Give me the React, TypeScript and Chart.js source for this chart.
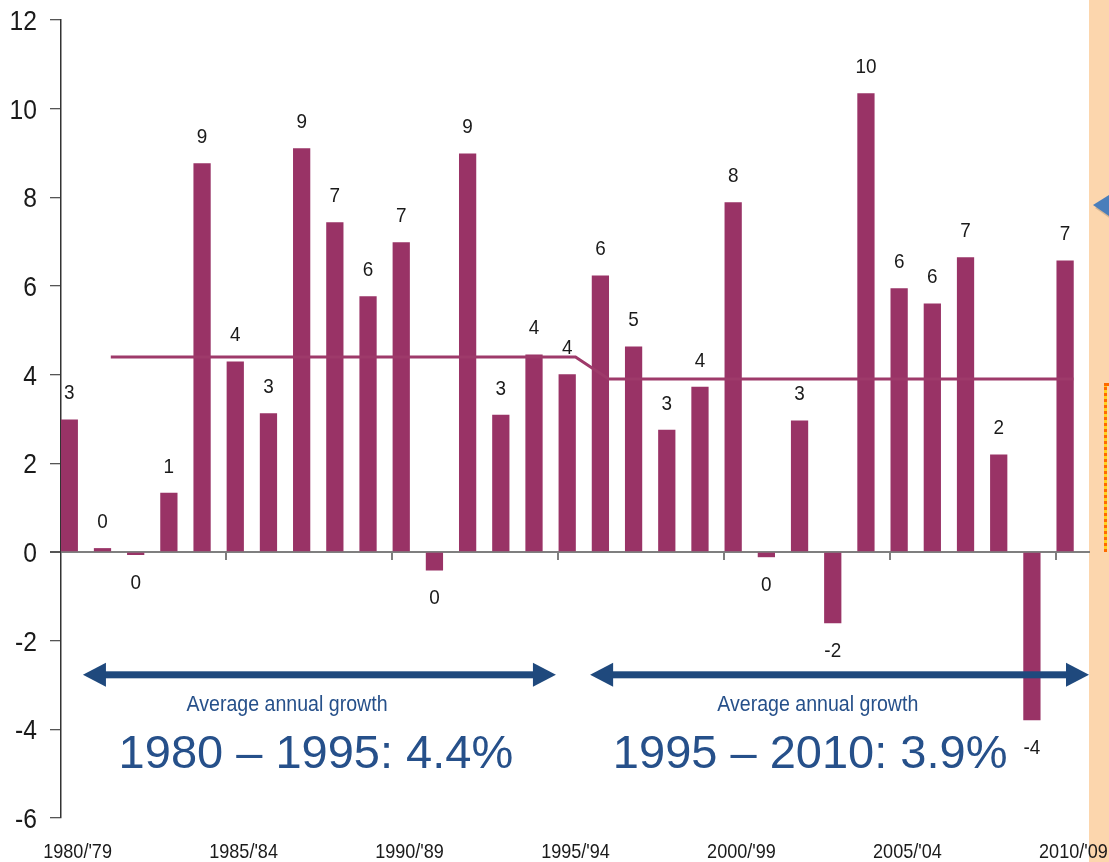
import React, { useEffect, useRef } from "react";
import { Chart, registerables } from "chart.js";

Chart.register(...registerables);

// ---- data ----
const categories = [
  "1980/'79", "1981/'80", "1982/'81", "1983/'82", "1984/'83",
  "1985/'84", "1986/'85", "1987/'86", "1988/'87", "1989/'88",
  "1990/'89", "1991/'90", "1992/'91", "1993/'92", "1994/'93",
  "1995/'94", "1996/'95", "1997/'96", "1998/'97", "1999/'98",
  "2000/'99", "2001/'00", "2002/'01", "2003/'02", "2004/'03",
  "2005/'04", "2006/'05", "2007/'06", "2008/'07", "2009/'08",
  "2010/'09",
];

const growth = [
  2.98, 0.08, -0.06, 1.33, 8.76,
  4.29, 3.12, 9.1, 7.43, 5.76,
  6.98, -0.41, 8.98, 3.09, 4.45,
  4.0, 6.23, 4.63, 2.75, 3.72,
  7.88, -0.11, 2.96, -1.6, 10.34,
  5.94, 5.6, 6.64, 2.19, -3.79,
  6.57,
];

const averageGrowth = [
  null, 4.4, 4.4, 4.4, 4.4,
  4.4, 4.4, 4.4, 4.4, 4.4,
  4.4, 4.4, 4.4, 4.4, 4.4,
  4.4, 3.9, 3.9, 3.9, 3.9,
  3.9, 3.9, 3.9, 3.9, 3.9,
  3.9, 3.9, 3.9, 3.9, 3.9,
  3.9,
];

const yMin = -6;
const yMax = 12;
const yStep = 2;
const labelEvery = 5;

const periodCaption = "Average annual growth";
const periodTexts = ["1980 – 1995: 4.4%", "1995 – 2010: 3.9%"];

// ---- annotation placement (in data units) ----
const periodLayout = [
  { from: 0.16, to: 14.41, captionX: 6.31, textX: 7.18 },
  { from: 15.44, to: 30.47, captionX: 22.3, textX: 22.07 },
];
const arrowY = -2.77;
const captionY = -3.41;
const bigTextBaselineY = -4.87;

const SANS = '"Liberation Sans", Arial, "DejaVu Sans", sans-serif';
const BAR = "#993366";
const LINE = "#9E3A6A";
const NAVY = "#1F497D";
const TEXTBLUE = "#26508A";
const INK = "#1a1a1a";

// draws real text, horizontally condensed (Arial-Narrow-like look)
function condensedText(
  ctx: CanvasRenderingContext2D,
  text: string,
  x: number,
  y: number,
  size: number,
  sx: number,
  align: CanvasTextAlign,
  baseline: CanvasTextBaseline,
  color: string
) {
  ctx.save();
  ctx.font = `${size}px ${SANS}`;
  ctx.fillStyle = color;
  ctx.textAlign = align;
  ctx.textBaseline = baseline;
  ctx.scale(sx, 1);
  ctx.fillText(text, x / sx, y);
  ctx.restore();
}

function drawArrow(ctx: CanvasRenderingContext2D, x1: number, x2: number, y: number) {
  const head = 23;
  const half = 12;
  ctx.save();
  ctx.fillStyle = NAVY;
  ctx.fillRect(x1 + head - 1, y - 3.5, x2 - x1 - 2 * head + 2, 7);
  ctx.beginPath();
  ctx.moveTo(x1, y);
  ctx.lineTo(x1 + head, y - half);
  ctx.lineTo(x1 + head, y + half);
  ctx.closePath();
  ctx.fill();
  ctx.beginPath();
  ctx.moveTo(x2, y);
  ctx.lineTo(x2 - head, y - half);
  ctx.lineTo(x2 - head, y + half);
  ctx.closePath();
  ctx.fill();
  ctx.restore();
}

const overlayPlugin = {
  id: "overlay",
  beforeDraw(chart: any) {
    const { ctx, chartArea, height, width } = chart;
    ctx.save();
    ctx.fillStyle = "#FCD6AD";
    ctx.fillRect(chartArea.right - 1, 0, width - chartArea.right + 1, height);
    ctx.restore();
  },
  afterDatasetsDraw(chart: any) {
    const { ctx, scales, chartArea } = chart;
    const x = scales.x;
    const y = scales.y;
    const zero = y.getPixelForValue(0);

    // x tick marks on the zero line
    ctx.save();
    ctx.strokeStyle = "#7f7f7f";
    ctx.lineWidth = 2;
    for (let i = labelEvery; i < categories.length; i += labelEvery) {
      const px = Math.round(x.getPixelForValue(i - 0.5)) - 1;
      ctx.beginPath();
      ctx.moveTo(px, zero);
      ctx.lineTo(px, zero + 8);
      ctx.stroke();
    }
    ctx.restore();

    // y tick labels
    for (let v = yMin; v <= yMax; v += yStep) {
      condensedText(ctx, String(v), chartArea.left - 24, y.getPixelForValue(v) + 10, 28, 0.88, "right", "alphabetic", INK);
    }

    // x category labels (every 5th)
    categories.forEach((c, i) => {
      if (i % labelEvery !== 0) return;
      condensedText(ctx, c, x.getPixelForValue(i), chartArea.bottom + 40, 21, 0.86, "center", "alphabetic", INK);
    });

    // value labels
    const meta = chart.getDatasetMeta(0);
    meta.data.forEach((bar: any, i: number) => {
      const v = growth[i];
      const r = Math.round(v);
      const txt = String(r === 0 ? 0 : r);
      const baseY = v >= 0 ? bar.y - 20.5 : bar.y + 34;
      condensedText(ctx, txt, bar.x, baseY, 21, 0.9, "center", "alphabetic", INK);
    });

    // period arrows and texts
    periodLayout.forEach((p, i) => {
      drawArrow(ctx, x.getPixelForValue(p.from), x.getPixelForValue(p.to), y.getPixelForValue(arrowY));
      condensedText(ctx, periodCaption, x.getPixelForValue(p.captionX), y.getPixelForValue(captionY) + 8, 22, 0.89, "center", "alphabetic", TEXTBLUE);
      ctx.save();
      ctx.fillStyle = TEXTBLUE;
      ctx.textAlign = "center";
      ctx.textBaseline = "alphabetic";
      ctx.font = `47px ${SANS}`;
      ctx.fillText(periodTexts[i], x.getPixelForValue(p.textX), y.getPixelForValue(bigTextBaselineY));
      ctx.restore();
    });
  },
  afterDraw(chart: any) {
    const { ctx, width, chartArea, scales } = chart;
    const zero = scales.y.getPixelForValue(0);
    // blue pointer triangle (cropped at right edge)
    ctx.save();
    ctx.fillStyle = "rgba(0,0,0,0.15)";
    ctx.beginPath();
    ctx.moveTo(chartArea.right + 5, 208);
    ctx.lineTo(width + 2, 198);
    ctx.lineTo(width + 2, 219);
    ctx.closePath();
    ctx.fill();
    ctx.fillStyle = "#4A7EBB";
    ctx.beginPath();
    ctx.moveTo(chartArea.right + 3, 205);
    ctx.lineTo(width, 195);
    ctx.lineTo(width, 216);
    ctx.closePath();
    ctx.fill();
    // yellow dashed box edge
    const bx = chartArea.right + 14;
    const top = 383;
    const bottom = zero - 2;
    ctx.fillStyle = "#FFD21F";
    ctx.fillRect(bx, top, 3, bottom - top);
    ctx.fillStyle = "#FF6A00";
    ctx.fillRect(bx, top, width - bx, 3);
    for (let yy = top + 4; yy < bottom; yy += 6) {
      ctx.fillRect(bx, yy, 3, 3);
    }
    ctx.restore();
  },
};

export default function App() {
  const canvasRef = useRef<HTMLCanvasElement | null>(null);

  useEffect(() => {
    if (!canvasRef.current) return;
    const chart = new Chart(canvasRef.current, {
      type: "bar",
      data: {
        labels: categories,
        datasets: [
          {
            type: "bar",
            data: growth,
            backgroundColor: BAR,
            categoryPercentage: 1,
            barPercentage: 1,
            order: 2,
          },
          {
            type: "bar",
            data: [],
            backgroundColor: "rgba(0,0,0,0)",
            categoryPercentage: 1,
            barPercentage: 1,
            order: 3,
          },
          {
            type: "line",
            data: averageGrowth as any,
            borderColor: LINE,
            borderWidth: 3,
            pointRadius: 0,
            tension: 0,
            order: 1,
          },
        ] as any,
      },
      options: {
        responsive: false,
        animation: false,
        devicePixelRatio: 1,
        layout: { padding: { top: 20, right: 19, left: 0, bottom: 0 } },
        plugins: {
          legend: { display: false },
          tooltip: { enabled: false },
        },
        scales: {
          x: {
            offset: true,
            grid: { display: false, drawTicks: false },
            border: { display: false },
            ticks: { display: false, autoSkip: false, maxRotation: 0 },
            afterFit: (scale: any) => {
              scale.height = 44;
              scale.paddingLeft = 0;
              scale.paddingRight = 0;
            },
          },
          y: {
            min: yMin,
            max: yMax,
            ticks: { display: false, stepSize: yStep },
            grid: {
              drawOnChartArea: true,
              drawTicks: true,
              tickLength: 11,
              color: (c: any) => (c.tick && c.tick.value === 0 ? "#7f7f7f" : "rgba(0,0,0,0)"),
              tickColor: "#555",
              lineWidth: (c: any) => (c.tick && c.tick.value === 0 ? 2 : 1.3),
            },
            border: { display: true, color: "#333", width: 1.5 },
            afterFit: (scale: any) => {
              scale.width = 61;
              scale.paddingTop = 0;
              scale.paddingBottom = 0;
            },
          },
        },
      } as any,
      plugins: [overlayPlugin],
    });
    return () => chart.destroy();
  }, []);

  return (
    <div style={{ position: "absolute", left: 0, top: 0, width: 1109, height: 862, background: "#fff" }}>
      <canvas ref={canvasRef} width={1109} height={862} />
    </div>
  );
}
